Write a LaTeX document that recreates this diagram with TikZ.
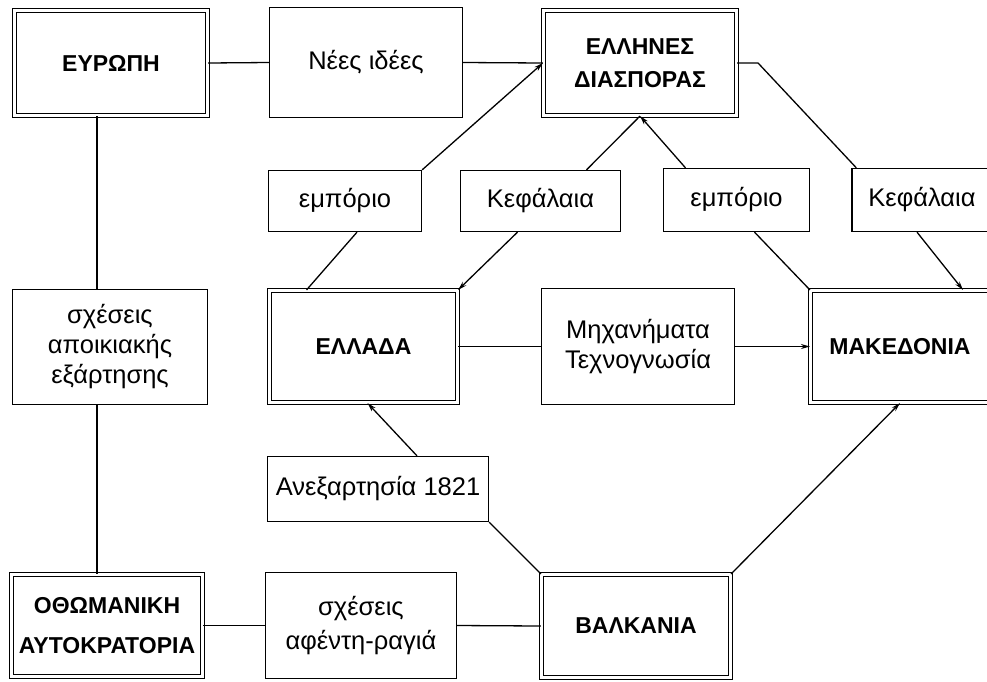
\documentclass[tikz,border=0pt]{standalone}
\usepackage{fontspec}
\setmainfont{Liberation Sans}
\usetikzlibrary{arrows.meta}

\begin{document}
\begin{tikzpicture}[x=1pt, y=-1pt]

	\useasboundingbox (0,0) rectangle (987,681);
	\clip (0,0) rectangle (987,681);

	\tikzset{box/.style={
				draw=black,
				line width=1.3pt,
				rectangle,
				inner sep=0pt,
				align=center,
				font=\fontsize{25.5}{30}\selectfont
			}}

	\tikzset{tag/.style={
				box,
				text height=18pt,
				text depth=5pt
			}}

	\tikzset{bigbox/.style={
				box,
				double,
				line width=1.1pt,
				double distance=2.6pt,
				font=\fontsize{23}{33}\selectfont\bfseries
			}}

	% Ligne 1 : Europe, idées, diaspora
	\node[bigbox, minimum width=193pt, minimum height=105pt] (eur)   at (111,63)   {ΕΥΡΩΠΗ};
	\node[tag,    minimum width=193pt, minimum height=110pt] (ideas) at (366,62.5) {Νέες ιδέες};
	\node[bigbox, minimum width=193pt, minimum height=105pt] (diasp) at (640,63)   {ΕΛΛΗΝΕΣ\\ΔΙΑΣΠΟΡΑΣ};

	% Ligne 2 : petites boîtes
	\node[tag, minimum width=153pt, minimum height=61pt] (emp1) at (345,201)   {εμπόριο};
	\node[tag, minimum width=160pt, minimum height=61pt] (kef1) at (540.5,201) {Κεφάλαια};
	\node[tag, minimum width=146pt, minimum height=63pt] (emp2) at (736.5,200) {εμπόριο};
	\node[tag, minimum width=140pt, minimum height=63pt] (kef2) at (922,200)   {Κεφάλαια};

	% Ligne 3
	\node[box,    minimum width=195pt, minimum height=115pt] (apoik)  at (110,347)   {σχέσεις\\αποικιακής\\εξάρτησης};
	\node[bigbox, minimum width=188pt, minimum height=112pt] (ellada) at (363.5,346.5) {ΕΛΛΑΔΑ};
	\node[box,    minimum width=193pt, minimum height=116pt] (mach)   at (638,346.5) {Μηχανήματα\\Τεχνογνωσία};
	\node[bigbox, minimum width=179pt, minimum height=112pt] (maked)  at (900,346.5) {ΜΑΚΕΔΟΝΙΑ};

	\node[tag, minimum width=221pt, minimum height=65pt] (aneks) at (378,489) {Ανεξαρτησία 1821};

	% Ligne 4
	\node[bigbox, minimum width=191pt, minimum height=102pt,
		font=\fontsize{23}{40}\selectfont\bfseries] (othom) at (107,625.5) {ΟΘΩΜΑΝΙΚΗ\\ΑΥΤΟΚΡΑΤΟΡΙΑ};
	\node[box,    minimum width=191pt, minimum height=106pt,
		font=\fontsize{25.5}{34}\selectfont] (afent) at (361,625.5) {σχέσεις\\αφέντη-ραγιά};
	\node[bigbox, minimum width=189pt, minimum height=103pt] (balk) at (636,626) {ΒΑΛΚΑΝΙΑ};


	\tikzset{link/.style={line width=1.3pt}}
	\tikzset{flow/.style={line width=1.3pt, -{Stealth[length=9pt, width=5pt]}}}

	\draw[link] (eur.east) -- (ideas.west);
	\draw[link] (ideas.east) -- (diasp.west);
	\draw[link] ([xshift=-14pt]eur.south) -- ([xshift=-13pt]apoik.north);
	\draw[link] ([xshift=-13pt]apoik.south) -- ([xshift=-10pt]othom.north);
	\draw[link] (othom.east) -- (afent.west);
	\draw[link] (afent.east) -- (balk.west);
	\draw[link] (ellada.east) -- (mach.west);
	\draw[flow] (mach.east) -- (maked.west);

	% εμπόριο / Κεφάλαια entre Ελλάδα et diaspora
	\draw[link] ([xshift=-57pt]ellada.north) -- ([xshift=12pt]emp1.south);
	\draw[flow] (emp1.north east) -- (diasp.west);
	\draw[link] (diasp.south) -- ([xshift=46pt]kef1.north);
	\draw[flow] ([xshift=-23pt]kef1.south) -- (ellada.north east);

	% εμπόριο / Κεφάλαια entre Μακεδονία et diaspora
	\draw[flow] ([xshift=-51pt]emp2.north) -- (diasp.south);
	\draw[link] ([xshift=18pt]emp2.south) -- (maked.north west);
	\draw[link] (diasp.east) -- ++(21,0) -- ([xshift=5pt]kef2.north west);
	\draw[flow] ([xshift=-5pt]kef2.south) -- ([xshift=63pt]maked.north);

	% Ανεξαρτησία et Βαλκάνια
	\draw[flow] ([xshift=39pt]aneks.north) -- ([xshift=4pt]ellada.south);
	\draw[link] (aneks.south east) -- (balk.north west);
	\draw[flow] (balk.north east) -- (maked.south);

\end{tikzpicture}
\end{document}
